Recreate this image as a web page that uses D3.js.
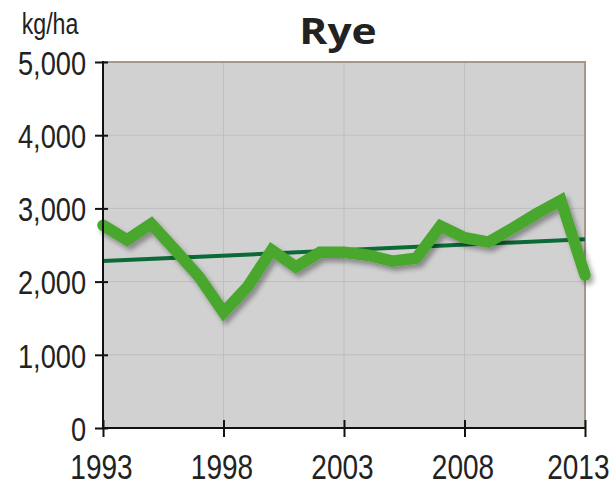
<!DOCTYPE html>
<html>
<head>
<meta charset="utf-8">
<script src="https://cdn.jsdelivr.net/npm/d3@7"></script>
<style>
  body { margin: 0; background: #fff; }
  text { font-family: "Liberation Sans", Arial, sans-serif; fill: #222; }
</style>
</head>
<body>
<div id="chart"></div>
<script>
var years = d3.range(1993, 2014);
var yieldVals = [2770, 2570, 2790, 2430, 2060, 1580, 1930, 2430, 2200, 2400, 2400,
                 2360, 2280, 2320, 2760, 2600, 2540, 2730, 2930, 3110, 2090];
var trendVals = [2280, 2580]; // at 1993 and 2013
var yTicks = [0, 1000, 2000, 3000, 4000, 5000];
var xTicks = [1993, 1998, 2003, 2008, 2013];

var W = 616, H = 490;
var m = { left: 103, right: 31, top: 62, bottom: 62 };
var sx = 0.8; // narrow font squeeze

var svg = d3.select('#chart').append('svg')
    .attr('width', W)
    .attr('height', H);

var defs = svg.append('defs');
var f = defs.append('filter').attr('id', 'shadow')
    .attr('x', '-10%').attr('y', '-10%').attr('width', '130%').attr('height', '130%');
f.append('feDropShadow')
    .attr('dx', 3).attr('dy', 4)
    .attr('stdDeviation', 2.5)
    .attr('flood-color', '#000')
    .attr('flood-opacity', 0.35);

var x = d3.scaleLinear().domain([1993, 2013]).range([m.left, W - m.right]);
var y = d3.scaleLinear().domain([0, 5000]).range([H - m.bottom, m.top]);

// plot background
svg.append('rect')
    .attr('x', x(1993)).attr('y', y(5000))
    .attr('width', x(2013) - x(1993))
    .attr('height', y(0) - y(5000))
    .attr('fill', '#d1d1d1');

// grid
svg.append('g').selectAll('line')
    .data(yTicks.slice(1, -1)).join('line')
    .attr('x1', x(1993)).attr('x2', x(2013))
    .attr('y1', function (d) { return y(d); })
    .attr('y2', function (d) { return y(d); })
    .attr('stroke', '#bfbfbf').attr('stroke-width', 1);
svg.append('g').selectAll('line')
    .data(xTicks.slice(1, -1)).join('line')
    .attr('y1', y(0)).attr('y2', y(5000))
    .attr('x1', function (d) { return x(d); })
    .attr('x2', function (d) { return x(d); })
    .attr('stroke', '#bfbfbf').attr('stroke-width', 1);

// top and right frame
svg.append('path')
    .attr('d', 'M' + x(1993) + ',' + y(5000) + 'H' + x(2013) + 'V' + y(0))
    .attr('fill', 'none')
    .attr('stroke', '#a59888')
    .attr('stroke-width', 2);

// trend line
svg.append('line')
    .attr('x1', x(1993)).attr('y1', y(trendVals[0]))
    .attr('x2', x(2013)).attr('y2', y(trendVals[1]))
    .attr('stroke', '#0b6a35')
    .attr('stroke-width', 4);

// yield line
var line = d3.line()
    .x(function (d, i) { return x(years[i]); })
    .y(function (d) { return y(d); });

svg.append('path')
    .datum(yieldVals)
    .attr('d', line)
    .attr('fill', 'none')
    .attr('stroke', '#48a72f')
    .attr('stroke-width', 11.5)
    .attr('stroke-linejoin', 'miter')
    .attr('stroke-linecap', 'round')
    .attr('filter', 'url(#shadow)');

// y axis
var yAxis = svg.append('g')
    .attr('transform', 'translate(' + x(1993) + ',0)')
    .call(d3.axisLeft(y).tickValues(yTicks).tickSize(8).tickFormat(d3.format(',')));
yAxis.select('.domain').remove();
yAxis.selectAll('.tick line').attr('x2', -8).attr('x1', 5).attr('stroke', '#111').attr('stroke-width', 2);
yAxis.selectAll('.tick text')
    .attr('x', -17 / sx)
    .attr('dy', '0.36em')
    .attr('transform', 'scale(' + sx + ',1)')
    .style('font-size', '34px')
    .attr('fill', '#222');
svg.append('line')
    .attr('x1', x(1993)).attr('x2', x(1993))
    .attr('y1', y(5000) - 1).attr('y2', y(0) + 1)
    .attr('stroke', '#111').attr('stroke-width', 2);

// x axis
var xAxis = svg.append('g')
    .attr('transform', 'translate(0,' + y(0) + ')')
    .call(d3.axisBottom(x).tickValues(xTicks).tickSize(9).tickFormat(d3.format('d')));
xAxis.select('.domain').remove();
xAxis.selectAll('.tick line').attr('y1', -8).attr('y2', 9).attr('stroke', '#111').attr('stroke-width', 2);
xAxis.selectAll('.tick text')
    .attr('y', 51)
    .attr('dy', 0)
    .attr('x', function (d, i) { return (i === xTicks.length - 1 ? 24 : -2) / sx; })
    .attr('text-anchor', function (d, i) { return i === xTicks.length - 1 ? 'end' : 'middle'; })
    .attr('transform', 'scale(' + sx + ',1)')
    .style('font-size', '35px')
    .attr('fill', '#222');
svg.append('line')
    .attr('x1', x(1993) - 1).attr('x2', x(2013) + 1)
    .attr('y1', y(0)).attr('y2', y(0))
    .attr('stroke', '#111').attr('stroke-width', 2);

// title and unit
svg.append('text')
    .attr('transform', 'translate(338,44) scale(1.18,1)')
    .attr('text-anchor', 'middle')
    .style('font-size', '36px')
    .style('font-weight', 'bold')
    .style('font-family', '"Open Sans", "Liberation Sans", sans-serif')
    .attr('fill', '#111')
    .text('Rye');

svg.append('text')
    .attr('transform', 'translate(50,34) scale(' + sx + ',1)')
    .attr('text-anchor', 'middle')
    .style('font-size', '29px')
    .text('kg/ha');
</script>
</body>
</html>
